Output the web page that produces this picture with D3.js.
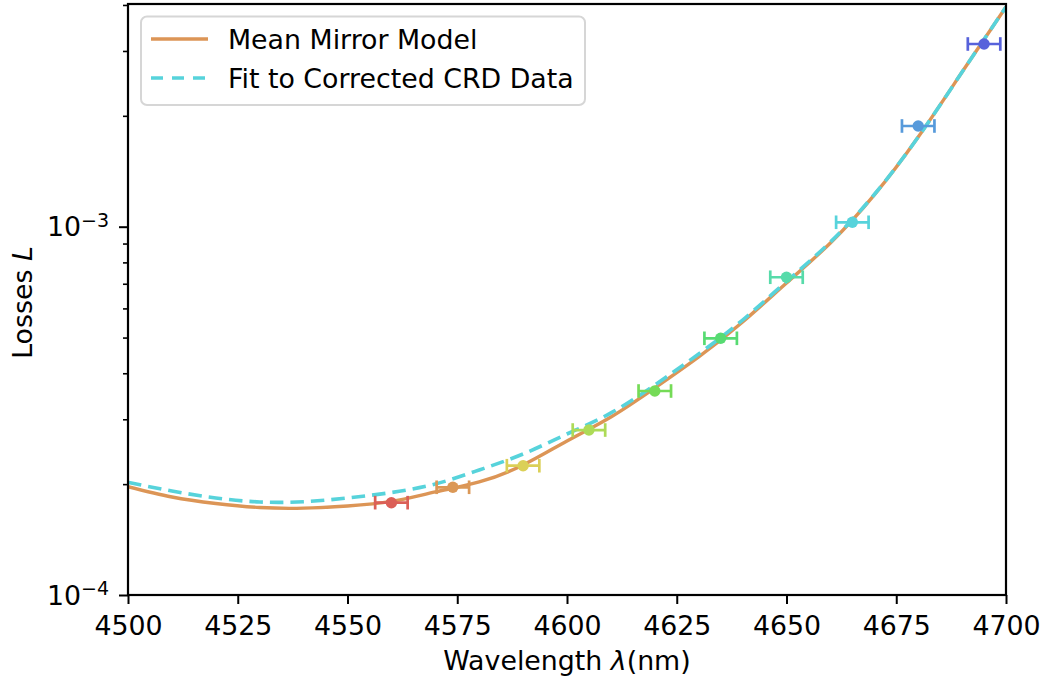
<!DOCTYPE html>
<html>
<head>
<meta charset="utf-8">
<script src="https://cdn.jsdelivr.net/npm/d3@7"></script>
<style>
  body { margin: 0; background: #ffffff; }
  text { font-family: "DejaVu Sans", sans-serif; fill: #000; }
</style>
</head>
<body>
<svg id="chart" width="1045" height="680"></svg>
<script>
// Wavelength grid (nm) on which both loss curves are sampled
const curveWavelengths = [4500, 4510, 4520, 4530, 4540, 4550, 4560, 4570, 4580, 4590, 4600,
                          4610, 4620, 4630, 4640, 4650, 4660, 4670, 4680, 4690, 4700];

// Mean mirror model losses
const mirrorModel = [1.968e-4, 1.845e-4, 1.772e-4, 1.728e-4, 1.721e-4, 1.745e-4, 1.795e-4,
                     1.905e-4, 2.027e-4, 2.254e-4, 2.619e-4, 3.044e-4, 3.648e-4, 4.429e-4,
                     5.512e-4, 7.034e-4, 9.031e-4, 1.2195e-3, 1.752e-3, 2.630e-3, 3.950e-3];

// Fit to the corrected CRD data
const crdFit = [2.023e-4, 1.916e-4, 1.834e-4, 1.789e-4, 1.792e-4, 1.834e-4, 1.898e-4,
                2.001e-4, 2.185e-4, 2.415e-4, 2.736e-4, 3.121e-4, 3.717e-4, 4.513e-4,
                5.580e-4, 7.101e-4, 9.089e-4, 1.2232e-3, 1.752e-3, 2.630e-3, 3.950e-3];

// Measured CRD points with wavelength uncertainty
const pointWavelengths = [4560, 4574, 4590, 4605, 4620, 4635, 4650, 4665, 4680, 4695];
const pointLosses = [1.781e-4, 1.961e-4, 2.244e-4, 2.805e-4, 3.58e-4, 4.977e-4,
                     7.29e-4, 1.028e-3, 1.877e-3, 3.134e-3];
const wavelengthError = 3.7;
const pointColors = ["#db5f57", "#db9857", "#dbd057", "#addb57", "#75db57",
                     "#57db72", "#57dbaa", "#57d3db", "#579adb", "#5762db"];

// Axis ticks
const xTicks = [4500, 4525, 4550, 4575, 4600, 4625, 4650, 4675, 4700];
const yMajorTicks = [1e-4, 1e-3];
const yMajorExponents = ["\u22124", "\u22123"];
const yMinorTicks = [2e-4, 3e-4, 4e-4, 5e-4, 6e-4, 7e-4, 8e-4, 9e-4, 2e-3, 3e-3, 4e-3];

const seriesNames = ["Mean Mirror Model", "Fit to Corrected CRD Data"];
const seriesColors = ["#dc9556", "#57d3db"];

const svg = d3.select("#chart");
const plotLeft = 128, plotRight = 1006, plotTop = 4, plotBottom = 595;
const fontSize = 26.8;

const x = d3.scaleLinear().domain([4500, 4700]).range([plotLeft, plotRight]);
const y = d3.scaleLog().domain([1e-4, 4.024e-3]).range([plotBottom, plotTop]);

svg.append("rect").attr("width", 1045).attr("height", 680).attr("fill", "#fff");

svg.append("clipPath").attr("id", "plot-clip")
  .append("rect").attr("x", plotLeft).attr("y", plotTop)
  .attr("width", plotRight - plotLeft).attr("height", plotBottom - plotTop);

const plot = svg.append("g").attr("clip-path", "url(#plot-clip)");

const line = d3.line()
  .x(d => x(d[0]))
  .y(d => y(d[1]))
  .curve(d3.curveNatural);

plot.append("path")
  .datum(curveWavelengths.map((w, i) => [w, mirrorModel[i]]))
  .attr("d", line)
  .attr("fill", "none")
  .attr("stroke", seriesColors[0])
  .attr("stroke-width", 3.4);

plot.append("path")
  .datum(curveWavelengths.map((w, i) => [w, crdFit[i]]))
  .attr("d", line)
  .attr("fill", "none")
  .attr("stroke", seriesColors[1])
  .attr("stroke-width", 3.6)
  .attr("stroke-dasharray", "13.5,7");

// Error bars and markers
const pts = svg.append("g");
pointWavelengths.forEach((w, i) => {
  const g = pts.append("g").attr("stroke", pointColors[i]).attr("fill", pointColors[i]);
  const cy = y(pointLosses[i]);
  const x0 = x(w - wavelengthError), x1 = x(w + wavelengthError);
  g.append("line").attr("x1", x0).attr("x2", x1).attr("y1", cy).attr("y2", cy).attr("stroke-width", 2.7);
  g.append("line").attr("x1", x0).attr("x2", x0).attr("y1", cy - 6.8).attr("y2", cy + 6.8).attr("stroke-width", 2.7);
  g.append("line").attr("x1", x1).attr("x2", x1).attr("y1", cy - 6.8).attr("y2", cy + 6.8).attr("stroke-width", 2.7);
  g.append("circle").attr("cx", x(w)).attr("cy", cy).attr("r", 5.7).attr("stroke", "none");
});

// X axis
const xAxis = svg.append("g")
  .attr("transform", `translate(0,${plotBottom})`)
  .call(d3.axisBottom(x).tickValues(xTicks).tickFormat(d3.format("d")).tickSizeOuter(0).tickSize(9).tickPadding(10));
xAxis.select(".domain").remove();
xAxis.selectAll(".tick line").attr("stroke", "#000").attr("stroke-width", 2);
xAxis.selectAll(".tick text")
  .attr("font-size", fontSize)
  .attr("font-family", "DejaVu Sans")
  .attr("dy", null)
  .attr("y", 39.5);

// Y axis minor ticks
const yMinor = svg.append("g")
  .attr("transform", `translate(${plotLeft},0)`)
  .call(d3.axisLeft(y).tickValues(yMinorTicks).tickFormat("").tickSize(5).tickSizeOuter(0));
yMinor.select(".domain").remove();
yMinor.selectAll(".tick line").attr("stroke", "#000").attr("stroke-width", 1.6);

// Y axis major ticks with power-of-ten labels
const yMajor = svg.append("g")
  .attr("transform", `translate(${plotLeft},0)`)
  .call(d3.axisLeft(y).tickValues(yMajorTicks).tickFormat("").tickSize(9).tickSizeOuter(0));
yMajor.select(".domain").remove();
yMajor.selectAll(".tick line").attr("stroke", "#000").attr("stroke-width", 2);
yMajor.selectAll(".tick text").remove();
yMajorTicks.forEach((v, i) => {
  const t = svg.append("text")
    .attr("x", 109)
    .attr("y", y(v) + 9.5)
    .attr("text-anchor", "end")
    .attr("font-size", fontSize);
  t.append("tspan").text("10");
  t.append("tspan").attr("font-size", 19).attr("dy", -9.5).text(yMajorExponents[i]);
});

// Frame
svg.append("rect")
  .attr("x", plotLeft).attr("y", plotTop)
  .attr("width", plotRight - plotLeft).attr("height", plotBottom - plotTop)
  .attr("fill", "none").attr("stroke", "#000").attr("stroke-width", 2.2);

// Axis titles
const xLabel = svg.append("text")
  .attr("x", (plotLeft + plotRight) / 2)
  .attr("y", 670)
  .attr("text-anchor", "middle")
  .attr("font-size", fontSize);
xLabel.append("tspan").text("Wavelength ");
xLabel.append("tspan").attr("font-style", "italic").text("\u03bb");
xLabel.append("tspan").text("(nm)");

const yLabel = svg.append("text")
  .attr("transform", `translate(32,${(plotTop + plotBottom) / 2 + 3}) rotate(-90)`)
  .attr("text-anchor", "middle")
  .attr("font-size", fontSize);
yLabel.append("tspan").text("Losses ");
yLabel.append("tspan").attr("font-style", "italic").text("L");

// Legend
const legend = svg.append("g");
legend.append("rect")
  .attr("x", 141).attr("y", 16.5)
  .attr("width", 444).attr("height", 88.5)
  .attr("rx", 6).attr("ry", 6)
  .attr("fill", "#fff").attr("fill-opacity", 0.8)
  .attr("stroke", "#d6d6d6").attr("stroke-width", 2);
[39, 78].forEach((ly, i) => {
  legend.append("line")
    .attr("x1", 151).attr("x2", 208).attr("y1", ly).attr("y2", ly)
    .attr("stroke", seriesColors[i])
    .attr("stroke-width", i === 0 ? 3.4 : 3.6)
    .attr("stroke-dasharray", i === 0 ? null : "12,9");
  legend.append("text")
    .attr("x", 228).attr("y", ly + 9.5)
    .attr("font-size", fontSize)
    .text(seriesNames[i]);
});
</script>
</body>
</html>
